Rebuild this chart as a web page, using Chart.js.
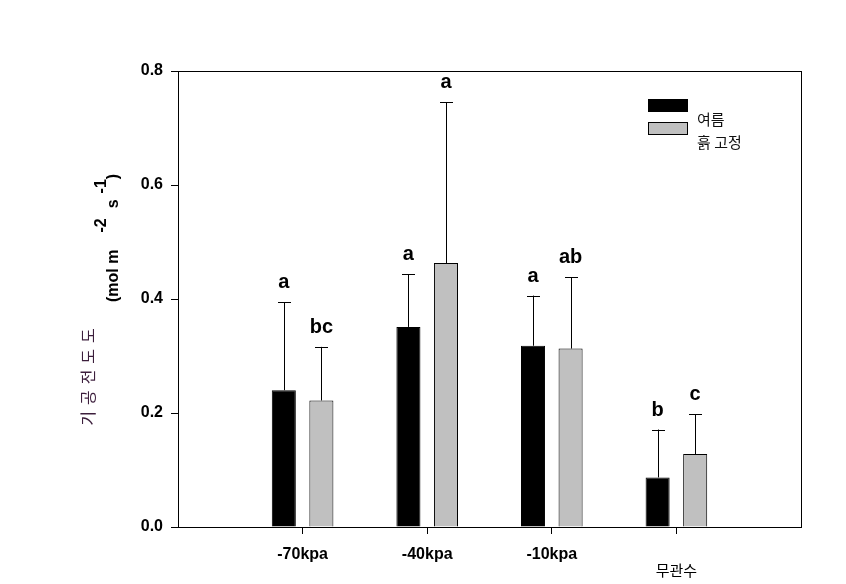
<!DOCTYPE html>
<html>
<head>
<meta charset="utf-8">
<script src="https://cdn.jsdelivr.net/npm/chart.js@4.4.1/dist/chart.umd.min.js"></script>
<style>
  html, body { margin: 0; padding: 0; background: #fff; }
  #wrap { width: 846px; height: 584px; }
</style>
</head>
<body>
<div id="wrap"><canvas id="chart" width="846" height="584"></canvas></div>
<script>
// data
const categories = ['-70kpa', '-40kpa', '-10kpa', '무관수'];
const seriesNames = ['여름', '흙 고정'];
const summerVals = [0.240, 0.351, 0.318, 0.087];
const summerErr = [0.154, 0.092, 0.088, 0.084];
const soilVals = [0.222, 0.463, 0.313, 0.128];
const soilErr = [0.094, 0.282, 0.125, 0.070];
const summerLetters = ['a', 'a', 'a', 'b'];
const soilLetters = ['bc', 'a', 'ab', 'c'];
const yTicks = [0, 0.2, 0.4, 0.6, 0.8];

const FONT = 'Arial, "Liberation Sans", sans-serif';
const KFONT = '"Noto Sans CJK KR", sans-serif';

// empty slot on each side, like the original axis
const labels = [''].concat(categories.map((c, i) => i === 3 ? ['', c] : c), ['']);
const pad = arr => [null].concat(arr, [null]);

const errs = [pad(summerErr), pad(soilErr)];
const letters = [pad(summerLetters), pad(soilLetters)];

const barExtras = {
  id: 'barExtras',
  afterDatasetsDraw(chart) {
    const ctx = chart.ctx;
    const y = chart.scales.y;
    ctx.save();
    chart.data.datasets.forEach((ds, di) => {
      const meta = chart.getDatasetMeta(di);
      meta.data.forEach((bar, i) => {
        const v = ds.data[i];
        if (v == null) return;
        const top = y.getPixelForValue(v + errs[di][i]);
        ctx.strokeStyle = '#000';
        ctx.lineWidth = 1;
        ctx.beginPath();
        ctx.moveTo(Math.round(bar.x) + 0.5, bar.y);
        ctx.lineTo(Math.round(bar.x) + 0.5, top);
        ctx.moveTo(Math.round(bar.x) - 6, Math.round(top) + 0.5);
        ctx.lineTo(Math.round(bar.x) + 7, Math.round(top) + 0.5);
        ctx.stroke();
        ctx.fillStyle = '#000';
        ctx.font = 'bold 20px ' + FONT;
        ctx.textAlign = 'center';
        ctx.textBaseline = 'alphabetic';
        ctx.fillText(letters[di][i], bar.x, top - 14);
      });
    });
    ctx.restore();
  },
  afterDraw(chart) {
    const ctx = chart.ctx;
    const a = chart.chartArea;
    ctx.save();
    // frame
    ctx.strokeStyle = '#000';
    ctx.lineWidth = 1;
    ctx.strokeRect(Math.round(a.left) + 0.5, Math.round(a.top) + 0.5,
      Math.round(a.right - a.left), Math.round(a.bottom - a.top));

    // legend
    const lx = 648, ly = 99;
    ctx.fillStyle = '#000';
    ctx.fillRect(lx, ly, 40, 13);
    ctx.fillStyle = '#c0c0c0';
    ctx.fillRect(lx, ly + 23, 40, 13);
    ctx.strokeRect(lx + 0.5, ly + 23.5, 39, 12);
    ctx.fillStyle = '#111';
    ctx.font = '15px ' + KFONT;
    ctx.textAlign = 'left';
    ctx.textBaseline = 'middle';
    ctx.fillText(seriesNames[0], 697, 119);
    ctx.fillText(seriesNames[1], 697, 142);

    // y title
    ctx.save();
    ctx.translate(88, 374);
    ctx.rotate(-Math.PI / 2);
    ctx.fillStyle = '#3c1e3c';
    ctx.font = '16px ' + KFONT;
    ctx.letterSpacing = '6px';
    ctx.textAlign = 'center';
    ctx.textBaseline = 'middle';
    ctx.fillText('기공전도도', 0, 0);
    ctx.restore();

    ctx.save();
    ctx.translate(118, 302);
    ctx.rotate(-Math.PI / 2);
    ctx.fillStyle = '#000';
    ctx.font = 'bold 16px ' + FONT;
    ctx.textAlign = 'left';
    ctx.textBaseline = 'alphabetic';
    let x = 0;
    ctx.fillText('(mol m', x, 0);
    x = ctx.measureText('(mol m').width + 17;
    ctx.fillText('-2', x, -12);
    x += ctx.measureText('-2').width + 10;
    ctx.fillText('s', x, 0);
    x += ctx.measureText('s').width + 6;
    ctx.fillText('-1', x, -12);
    x += ctx.measureText('-1').width;
    ctx.fillText(')', x, 0);
    ctx.restore();
    ctx.restore();
  }
};

new Chart(document.getElementById('chart'), {
  type: 'bar',
  data: {
    labels: labels,
    datasets: [
      {
        label: seriesNames[0],
        data: pad(summerVals),
        backgroundColor: '#000',
        borderColor: '#000',
        borderWidth: 1,
        categoryPercentage: 0.603,
        barPercentage: 0.64
      },
      {
        label: seriesNames[1],
        data: pad(soilVals),
        backgroundColor: '#c0c0c0',
        borderColor: '#000',
        borderWidth: 1,
        categoryPercentage: 0.603,
        barPercentage: 0.64
      }
    ]
  },
  options: {
    responsive: false,
    animation: false,
    layout: { padding: { top: 71, right: 45, left: 0, bottom: 0 } },
    plugins: { legend: { display: false }, tooltip: { enabled: false } },
    scales: {
      x: {
        offset: false,
        afterFit: s => { s.height = 57; },
        border: { color: '#000', width: 1 },
        grid: {
          offset: false,
          drawOnChartArea: false,
          tickLength: 7,
          tickColor: c => (c.index === 0 || c.index === 5) ? 'rgba(0,0,0,0)' : '#000'
        },
        ticks: {
          color: '#000',
          padding: 12,
          maxRotation: 0,
          autoSkip: false,
          font: c => c.index === 4
            ? { family: KFONT, size: 15, weight: 'normal', lineHeight: 1.1 }
            : { family: FONT, size: 16, weight: 'bold', lineHeight: 1.1 }
        }
      },
      y: {
        min: 0,
        max: 0.8,
        afterFit: s => { s.width = 178; },
        afterBuildTicks: s => { s.ticks = yTicks.map(v => ({ value: v })); },
        border: { color: '#000', width: 1 },
        grid: { drawOnChartArea: false, tickLength: 7, color: '#000' },
        ticks: {
          color: '#000',
          padding: 8,
          font: { family: FONT, size: 16, weight: 'bold' },
          callback: v => v.toFixed(1)
        }
      }
    }
  },
  plugins: [barExtras]
});
</script>
</body>
</html>
